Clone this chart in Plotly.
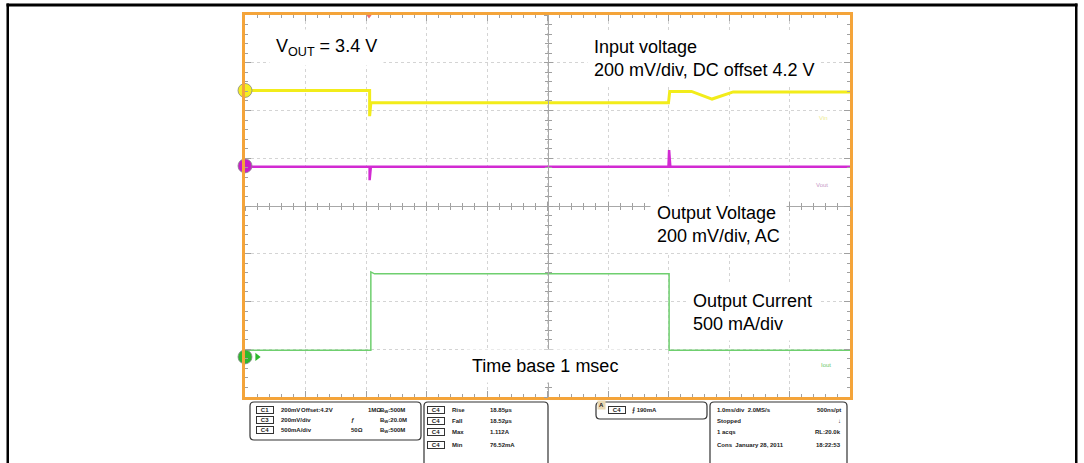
import plotly.graph_objects as go

# scope traces, time in ms (1 ms/div), amplitude in screen divisions
time_in = [0.0, 2.06, 2.06, 2.08, 7.00, 7.02, 7.38, 7.72, 8.07, 10.0]
vin_div = [2.42, 2.42, 1.88, 2.16, 2.16, 2.40, 2.40, 2.24, 2.39, 2.39]

time_out = [0.0, 2.06, 2.06, 2.08, 7.00, 7.01, 7.03, 10.0]
vout_div = [0.82, 0.82, 0.54, 0.82, 0.82, 1.17, 0.82, 0.82]

time_i = [0.0, 2.08, 2.08, 2.14, 7.01, 7.01, 10.0]
iout_div = [-3.02, -3.02, -1.38, -1.42, -1.42, -3.02, -3.02]

# channel ground markers on the left edge
gnd_t = [0.0, 0.0, 0.0]
gnd_lvl = [2.42, 0.84, -3.16]
gnd_colors = ["#f4ee20", "#c81ec8", "#2eb82e"]
trig_t = [2.05]

labels = [
    ("V<sub>OUT</sub> = 3.4 V", 276, 47),
    ("Input voltage<br>200 mV/div, DC offset 4.2 V", 594, 58.5),
    ("Output Voltage<br>200 mV/div, AC", 657, 224.5),
    ("Output Current<br>500 mA/div", 693, 312),
    ("Time base 1 msec", 472, 366),
]

# readout panel texts
setup_badges = ["C1", "C3", "C4"]
setup_scale = ["200mV", "200mV/div", "500mA/div"]
setup_mid = ["Offset:4.2V", "", ""]
setup_imp = ["1MΩ", "ƒ", "50Ω"]
setup_bw = ["B<sub>W</sub>:500M", "B<sub>W</sub>:20.0M", "B<sub>W</sub>:500M"]
meas_badges = ["C4", "C4", "C4", "C4"]
meas_names = ["Rise", "Fall", "Max", "Min"]
meas_values = ["18.85µs", "18.52µs", "1.112A", "76.52mA"]
acq_left = ["1.0ms/div  2.0MS/s", "Stopped", "1 acqs", "Cons  January 28, 2011"]
acq_right = ["500ns/pt", "↓", "RL:20.0k", "18:22:53"]

W, H = 1084, 463
FONT = "Liberation Sans, Arial, sans-serif"
ORANGE = "#f4a43a"
TICK = "#a0a0a0"


def px(x):
    return x / W


def py(y):
    return 1 - y / H


def rrect(x0, y0, x1, y1, r=4):
    X0, X1, T, B = px(x0), px(x1), py(y0), py(y1)
    rx, ry = r / W, r / H
    return (f"M {X0 + rx},{T} L {X1 - rx},{T} Q {X1},{T} {X1},{T - ry} "
            f"L {X1},{B + ry} Q {X1},{B} {X1 - rx},{B} L {X0 + rx},{B} "
            f"Q {X0},{B} {X0},{B + ry} L {X0},{T - ry} Q {X0},{T} {X0 + rx},{T} Z")


fig = go.Figure()
fig.add_trace(go.Scatter(x=time_in, y=vin_div, mode="lines",
                         line=dict(color="#f2ec1a", width=3)))
fig.add_trace(go.Scatter(x=time_out, y=vout_div, mode="lines",
                         line=dict(color="#d22ad2", width=2.5)))
fig.add_trace(go.Scatter(x=time_i, y=iout_div, mode="lines",
                         line=dict(color="#6fcf6f", width=1.5)))
fig.add_trace(go.Scatter(x=gnd_t, y=gnd_lvl, mode="markers", cliponaxis=False,
                         marker=dict(color=gnd_colors, size=14,
                                     line=dict(color="#888888", width=0.8))))
fig.add_trace(go.Scatter(x=[t + 0.2 for t in gnd_t[2:]], y=gnd_lvl[2:], mode="markers",
                         cliponaxis=False,
                         marker=dict(color="#2eb82e", size=7, symbol="triangle-right")))
fig.add_trace(go.Scatter(x=trig_t, y=[4], mode="markers", cliponaxis=False,
                         marker=dict(color="#ee7070", size=7, symbol="triangle-down")))
# centre graticule axes
for xa, ya in [("x2", "y"), ("x3", "y"), ("x", "y2"), ("x", "y3")]:
    fig.add_trace(go.Scatter(x=[None], y=[None], xaxis=xa, yaxis=ya))

xdom = [px(245), px(850)]
ydom = [py(397), py(15)]
grid_axis = dict(showgrid=True, griddash="dot", gridcolor="#d4d4d4", gridwidth=1,
                 zeroline=False, showline=True, linecolor=ORANGE, linewidth=3,
                 mirror="ticks", ticks="inside", ticklen=6, tickcolor=TICK,
                 showticklabels=False,
                 minor=dict(ticks="inside", ticklen=3, tickcolor=TICK, showgrid=False))
center_axis = dict(showgrid=False, zeroline=False, showticklabels=False,
                   tickcolor=TICK, ticklen=4, anchor="free")

fig.update_layout(
    width=W, height=H, margin=dict(l=0, r=0, t=0, b=0),
    paper_bgcolor="white", plot_bgcolor="white", showlegend=False,
    font=dict(family=FONT, color="black"),
    xaxis=dict(domain=xdom, range=[0, 10], dtick=1, **grid_axis,
               minor_dtick=0.2),
    yaxis=dict(domain=ydom, range=[-4, 4], dtick=1, **grid_axis,
               minor_dtick=0.2),
    xaxis2=dict(overlaying="x", range=[0, 10], dtick=1, position=py(206),
                showline=True, linecolor="#a8a8a8", linewidth=1, ticks="outside",
                minor=dict(dtick=0.2, ticks="outside", ticklen=3, tickcolor=TICK),
                **center_axis),
    xaxis3=dict(overlaying="x", range=[0, 10], dtick=1, position=py(206),
                showline=False, ticks="inside",
                minor=dict(dtick=0.2, ticks="inside", ticklen=3, tickcolor=TICK),
                **center_axis),
    yaxis2=dict(overlaying="y", range=[-4, 4], dtick=1, position=px(547.5),
                showline=True, linecolor="#a8a8a8", linewidth=1, ticks="outside",
                minor=dict(dtick=0.2, ticks="outside", ticklen=3, tickcolor=TICK),
                **center_axis),
    yaxis3=dict(overlaying="y", range=[-4, 4], dtick=1, position=px(547.5),
                showline=False, ticks="inside",
                minor=dict(dtick=0.2, ticks="inside", ticklen=3, tickcolor=TICK),
                **center_axis),
)

ann = []
for text, x, y in labels:
    ann.append(dict(text=text, x=px(x - 7), y=py(y), xref="paper", yref="paper",
                    xanchor="left", yanchor="middle", align="left", showarrow=False,
                    bgcolor="white", borderpad=6, font=dict(size=18, family=FONT)))

# faint channel tags on the right
for text, x, y, c in [("Vin", 830, 113, "#ecec90"), ("Vout", 830, 185, "#c79ac7"),
                      ("Iout", 833, 370, "#6cc86c")]:
    ann.append(dict(text=text, x=px(x), y=py(y), xref="paper", yref="paper",
                    showarrow=False, font=dict(size=6, color=c)))

small = dict(size=6, color="#222222", family=FONT)


def txt(text, x, y, anchor="left", **kw):
    ann.append(dict(text=f"<b>{text}</b>", x=px(x), y=py(y), xref="paper", yref="paper",
                    xanchor=anchor, yanchor="middle", showarrow=False, font=small, **kw))


def badge(text, x, y):
    ann.append(dict(text=f"<b>{text}</b>", x=px(x), y=py(y), xref="paper", yref="paper",
                    xanchor="center", yanchor="middle", showarrow=False, font=small,
                    width=16, bordercolor="#333333", borderwidth=1, borderpad=0))


for i, yy in enumerate([410, 420, 430]):
    badge(setup_badges[i], 265, yy)
    txt(setup_scale[i], 279, yy)
    if setup_mid[i]:
        txt(setup_mid[i], 299, yy)
    txt(setup_imp[i], 366 if i == 0 else 349, yy)
    txt(setup_bw[i], 378, yy)

for i, yy in enumerate([410, 421, 432, 445]):
    badge(meas_badges[i], 436, yy)
    txt(meas_names[i], 450, yy)
    txt(meas_values[i], 488, yy)
    txt(acq_left[i], 715, yy)
    txt(acq_right[i], 843, yy, anchor="right")

ann.append(dict(text="<b>A</b>", x=px(601), y=py(410), xref="paper", yref="paper",
                showarrow=False, font=small, bgcolor="#ead9b4", borderpad=1))
badge("C4", 617, 410)
txt("⨍ 190mA", 630, 410)

fig.update_layout(annotations=ann)

# outer frame of the page (open at the bottom)
shapes = [
    dict(type="rect", xref="paper", yref="paper", x0=px(6.5), x1=px(1077.5),
         y0=py(6.5), y1=py(3.5), fillcolor="black", line=dict(width=0)),
    dict(type="rect", xref="paper", yref="paper", x0=px(6.5), x1=px(9),
         y0=py(470), y1=py(3.5), fillcolor="black", line=dict(width=0)),
    dict(type="rect", xref="paper", yref="paper", x0=px(1075), x1=px(1077.5),
         y0=py(470), y1=py(3.5), fillcolor="black", line=dict(width=0)),
]
for box in [(250, 402, 421, 440), (424, 402, 548, 472), (596, 402, 707, 419),
            (710, 402, 847, 472)]:
    shapes.append(dict(type="path", xref="paper", yref="paper", path=rrect(*box),
                       line=dict(color="#333333", width=1.2)))
fig.update_layout(shapes=shapes)

# drop the default page margin so the figure sits at the window origin
fig.write_html("out.html", config={"displayModeBar": False},
               post_script="document.body.style.margin='0';document.body.style.overflow='hidden';")
